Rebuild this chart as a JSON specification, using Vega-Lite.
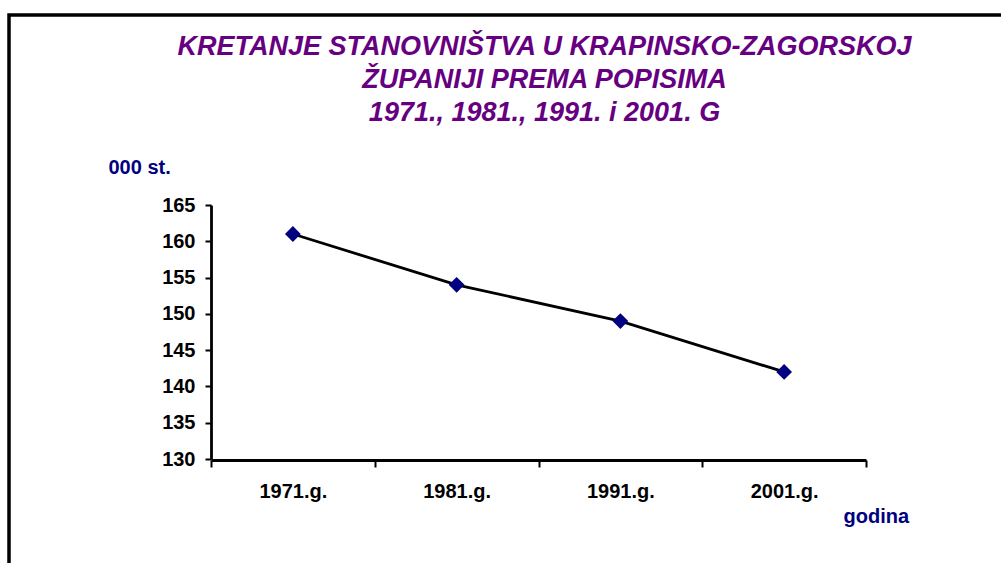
{
  "$schema": "https://vega.github.io/schema/vega-lite/v6.json",
  "autosize": {"type": "none"},
  "padding": {"left": 9, "top": 15, "right": -3, "bottom": -3},
  "width": 995,
  "height": 551,
  "background": "white",
  "config": {
    "view": {"stroke": "black", "strokeWidth": 3.5},
    "font": "Liberation Sans"
  },
  "title": {
    "text": ["KRETANJE STANOVNIŠTVA U KRAPINSKO-ZAGORSKOJ", "ŽUPANIJI PREMA POPISIMA", "1971., 1981., 1991.  i 2001. G"],
    "anchor": "middle",
    "frame": "group",
    "font": "Liberation Sans",
    "fontSize": 27,
    "fontWeight": "bold",
    "fontStyle": "italic",
    "color": "#660080",
    "lineHeight": 33,
    "baseline": "top",
    "offset": -112,
    "dx": 38
  },
  "data": {
    "values": [
      {"godina": "1971.g.", "stanovnistvo": 161},
      {"godina": "1981.g.", "stanovnistvo": 154},
      {"godina": "1991.g.", "stanovnistvo": 149},
      {"godina": "2001.g.", "stanovnistvo": 142}
    ]
  },
  "encoding": {
    "x": {
      "field": "godina",
      "type": "nominal",
      "sort": null,
      "scale": {"type": "band", "range": [202, 857], "paddingInner": 0, "paddingOuter": 0},
      "axis": {
        "orient": "bottom",
        "offset": -106,
        "tickBand": "extent",
        "grid": false,
        "domainColor": "black",
        "domainWidth": 2.8,
        "tickColor": "black",
        "tickWidth": 2,
        "tickSize": 7,
        "labelFont": "Liberation Sans",
        "labelFontSize": 20,
        "labelFontWeight": "bold",
        "labelColor": "black",
        "labelPadding": 14,
        "labelAngle": 0,
        "title": "godina",
        "titleX": 834,
        "titleY": 62,
        "titleAlign": "left",
        "titleBaseline": "alphabetic",
        "titleColor": "#000080",
        "titleFont": "Liberation Sans",
        "titleFontSize": 20,
        "titleFontWeight": "bold"
      }
    },
    "y": {
      "field": "stanovnistvo",
      "type": "quantitative",
      "scale": {"domain": [130, 165], "range": [444, 190], "nice": false, "zero": false},
      "axis": {
        "orient": "left",
        "offset": -202,
        "values": [130, 135, 140, 145, 150, 155, 160, 165],
        "grid": false,
        "domainColor": "black",
        "domainWidth": 2.8,
        "tickColor": "black",
        "tickWidth": 2,
        "tickSize": 6,
        "labelFont": "Liberation Sans",
        "labelFontSize": 20,
        "labelFontWeight": "bold",
        "labelColor": "black",
        "labelPadding": 10,
        "title": "000 st.",
        "titleAngle": 0,
        "titleX": -103,
        "titleY": 158,
        "titleAlign": "left",
        "titleBaseline": "alphabetic",
        "titleColor": "#000080",
        "titleFont": "Liberation Sans",
        "titleFontSize": 20,
        "titleFontWeight": "bold"
      }
    }
  },
  "layer": [
    {"mark": {"type": "line", "color": "black", "strokeWidth": 2.8}},
    {"mark": {"type": "point", "shape": "diamond", "filled": true, "color": "#000080", "size": 250, "opacity": 1}}
  ]
}
